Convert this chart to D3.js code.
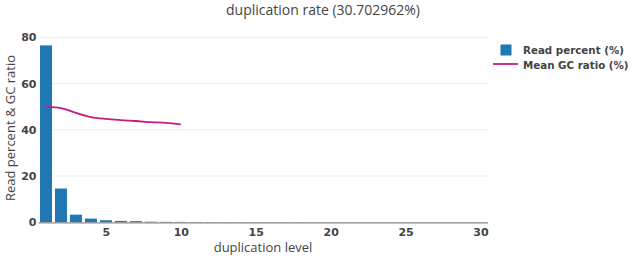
<!DOCTYPE html>
<html><head><meta charset="utf-8">
<script src="https://cdn.jsdelivr.net/npm/d3@7"></script>
<style>body{margin:0;background:#fff}svg{display:block}</style>
</head><body>
<svg id="c" width="633" height="260"></svg>
<script>
const levels = d3.range(1, 31);
const readPercent = [76.5, 14.6, 3.3, 1.6, 0.9, 0.6, 0.5, 0.25, 0.2, 0.18, 0.15, 0.13, 0.12, 0.1, 0.1, 0.09, 0.05, 0.05, 0.04, 0.04, 0.03, 0.03, 0.03, 0.02, 0.02, 0.02, 0.02, 0.02, 0.02, 0.02];
const gcLevels = [1,2,3,4,5,6,7,8,9,10];
const gcRatio = [49.9, 49.4, 47.3, 45.5, 44.7, 44.2, 43.8, 43.3, 43.0, 42.3];
const yTicks = [0, 20, 40, 60, 80];
const xTicks = [5, 10, 15, 20, 25, 30];
const title = "duplication rate (30.702962%)";

const svg = d3.select("#c");
const font = "'Open Sans', sans-serif";
const bfont = "'DejaVu Sans', Verdana, sans-serif";
const L = 38.5, R = 488, T = 30, B = 222.3;
const x = d3.scaleLinear().domain([0.5, 30.5]).range([L, R]);
const y = d3.scaleLinear().domain([0, 80]).range([B, B - 4 * 46.25]);

// grid
svg.append("g").selectAll("line").data(yTicks.filter(d => d > 0)).join("line")
  .attr("x1", L).attr("x2", R).attr("y1", d => y(d)).attr("y2", d => y(d))
  .attr("stroke", "#eee").attr("stroke-width", 1);

// bars
const bw = (x(1) - x(0)) * 0.8;
svg.append("g").selectAll("rect").data(levels).join("rect")
  .attr("x", (d) => x(d) - bw / 2)
  .attr("width", bw)
  .attr("y", (d, i) => y(readPercent[i]))
  .attr("height", (d, i) => y(0) - y(readPercent[i]))
  .attr("fill", "#1f77b4");

// x axis line
svg.append("line").attr("x1", L).attr("x2", R).attr("y1", B + 0.5).attr("y2", B + 0.5)
  .attr("stroke", "#888").attr("stroke-width", 1.2);

// line
const line = d3.line().x(d => x(d[0])).y(d => y(d[1])).curve(d3.curveCatmullRom.alpha(0.5));
svg.append("path").datum(gcLevels.map((l, i) => [l, gcRatio[i]]))
  .attr("d", line).attr("fill", "none").attr("stroke", "#c71b7f").attr("stroke-width", 1.8);

// axes
const xAxis = d3.axisBottom(x).tickValues(xTicks).tickSize(0).tickPadding(6);
const gx = svg.append("g").attr("transform", `translate(0,${B})`).call(xAxis);
gx.select(".domain").remove();
gx.selectAll("text").attr("font-family", bfont).attr("font-size", 11).attr("font-weight", "bold").attr("fill", "#444");

const yAxis = d3.axisLeft(y).tickValues(yTicks).tickSize(0).tickPadding(2);
const gy = svg.append("g").attr("transform", `translate(${L},0)`).call(yAxis);
gy.select(".domain").remove();
gy.selectAll("text").attr("font-family", bfont).attr("font-size", 11).attr("font-weight", "bold").attr("fill", "#444");

// titles
svg.append("text").attr("x", 323).attr("y", 15).attr("text-anchor", "middle")
  .attr("font-family", font).attr("font-size", 14).attr("fill", "#444").text(title);
svg.append("text").attr("x", 263).attr("y", 252).attr("text-anchor", "middle")
  .attr("font-family", font).attr("font-size", 13).attr("fill", "#444").text("duplication level");
svg.append("text").attr("transform", "translate(15,128) rotate(-90)").attr("text-anchor", "middle")
  .attr("font-family", font).attr("font-size", 13).attr("fill", "#444").text("Read percent & GC ratio");

// legend
const lg = svg.append("g");
lg.append("rect").attr("x", 500.5).attr("y", 44.5).attr("width", 11).attr("height", 11).attr("fill", "#1f77b4");
lg.append("text").attr("x", 523).attr("y", 53.5).attr("font-family", bfont).attr("font-size", 10.3)
  .attr("font-weight", "bold").attr("fill", "#444").text("Read percent (%)");
lg.append("line").attr("x1", 493).attr("x2", 518).attr("y1", 64).attr("y2", 64)
  .attr("stroke", "#c71b7f").attr("stroke-width", 1.8);
lg.append("text").attr("x", 523).attr("y", 69).attr("font-family", bfont).attr("font-size", 10.3)
  .attr("font-weight", "bold").attr("fill", "#444").text("Mean GC ratio (%)");
</script>
</body></html>
